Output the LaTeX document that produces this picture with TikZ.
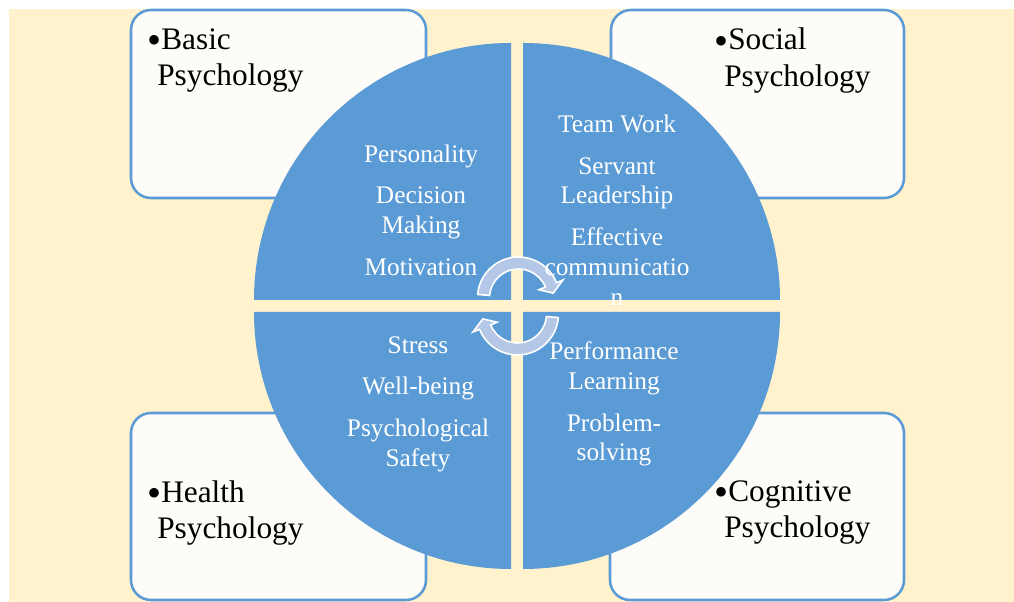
\documentclass[tikz,border=0pt]{standalone}
\usepackage{fontspec}
\setmainfont{Liberation Serif}
\usetikzlibrary{positioning}
\definecolor{cream}{RGB}{255,242,204}
\definecolor{quadblue}{RGB}{91,155,213}
\definecolor{paper}{RGB}{254,252,248}
\definecolor{turnblue}{RGB}{180,199,231}
\newcommand{\areabullet}{\raisebox{-3.2pt}{\fontsize{30}{30}\selectfont\textbullet}}

\begin{document}
\begin{tikzpicture}[x=0.75pt,y=0.75pt,
	area/.style={draw=quadblue,line width=1.9pt,fill=paper,rounded corners=15pt},
	quad/.style={fill=quadblue},
	turn/.style={fill=turnblue,draw=white,line width=1.2pt},
	areatext/.style={inner sep=0pt,anchor=north west,align=left,font=\fontsize{23.5}{27.5}\selectfont},
	quadtext/.style={inner sep=0pt,align=center,text=white,font=\fontsize{19}{22.3}\selectfont}]
		\useasboundingbox (0,0) rectangle (1014,602);
		\fill[cream] (9,0) rectangle (1014,593);

		% four fields of psychology
		\draw[area] (131,404) rectangle (426,592);
		\draw[area] (611,404) rectangle (904,592);
		\draw[area] (131,2) rectangle (426,189);
		\draw[area] (610,2) rectangle (904,189);

		\node[areatext] (basic) at (147,574) {\areabullet Basic\\\hspace*{7.5pt}Psychology};
		\node[areatext] (social) at (714,574) {\areabullet Social\\\hspace*{7.5pt}Psychology};
		\node[areatext] (health) at (147,122) {\areabullet Health\\\hspace*{7.5pt}Psychology};
		\node[areatext] (cognitive) at (714,122) {\areabullet Cognitive\\\hspace*{7.5pt}Psychology};

		% quarters of the disc
		\fill[quad] (511,302) -- (511,559) arc[start angle=90,end angle=180,radius=257] -- cycle;
		\fill[quad] (523,302) -- (523,559) arc[start angle=90,end angle=0,radius=257] -- cycle;
		\fill[quad] (511,290) -- (254,290) arc[start angle=180,end angle=270,radius=257] -- cycle;
		\fill[quad] (523,290) -- (523,33) arc[start angle=270,end angle=360,radius=257] -- cycle;

		% turning arrows
		\draw[turn,shift={(518.5,304)}] (175:41) arc[start angle=175,end angle=22,radius=41] -- (22:48) -- (8:35) -- (22:22) -- (22:29) arc[start angle=22,end angle=175,radius=29] -- cycle;
		\draw[turn,shift={(517.5,288)},rotate=180] (175:41) arc[start angle=175,end angle=22,radius=41] -- (22:48) -- (8:35) -- (22:22) -- (22:29) arc[start angle=22,end angle=175,radius=29] -- cycle;

		\node[quadtext] (personal) at (421,392) {Personality\\[9pt]Decision\\Making\\[9pt]Motivation};
		\node[quadtext] (team) at (617,392) {Team Work\\[9pt]Servant\\Leadership\\[9pt]Effective\\communicatio\\n};
		\node[quadtext] (wellbeing) at (418,198) {Stress\\[9pt]Well-being\\[9pt]Psychological\\Safety};
		\node[quadtext] (performance) at (614,198) {Performance\\Learning\\[9pt]Problem-\\solving};
\end{tikzpicture}
\end{document}
